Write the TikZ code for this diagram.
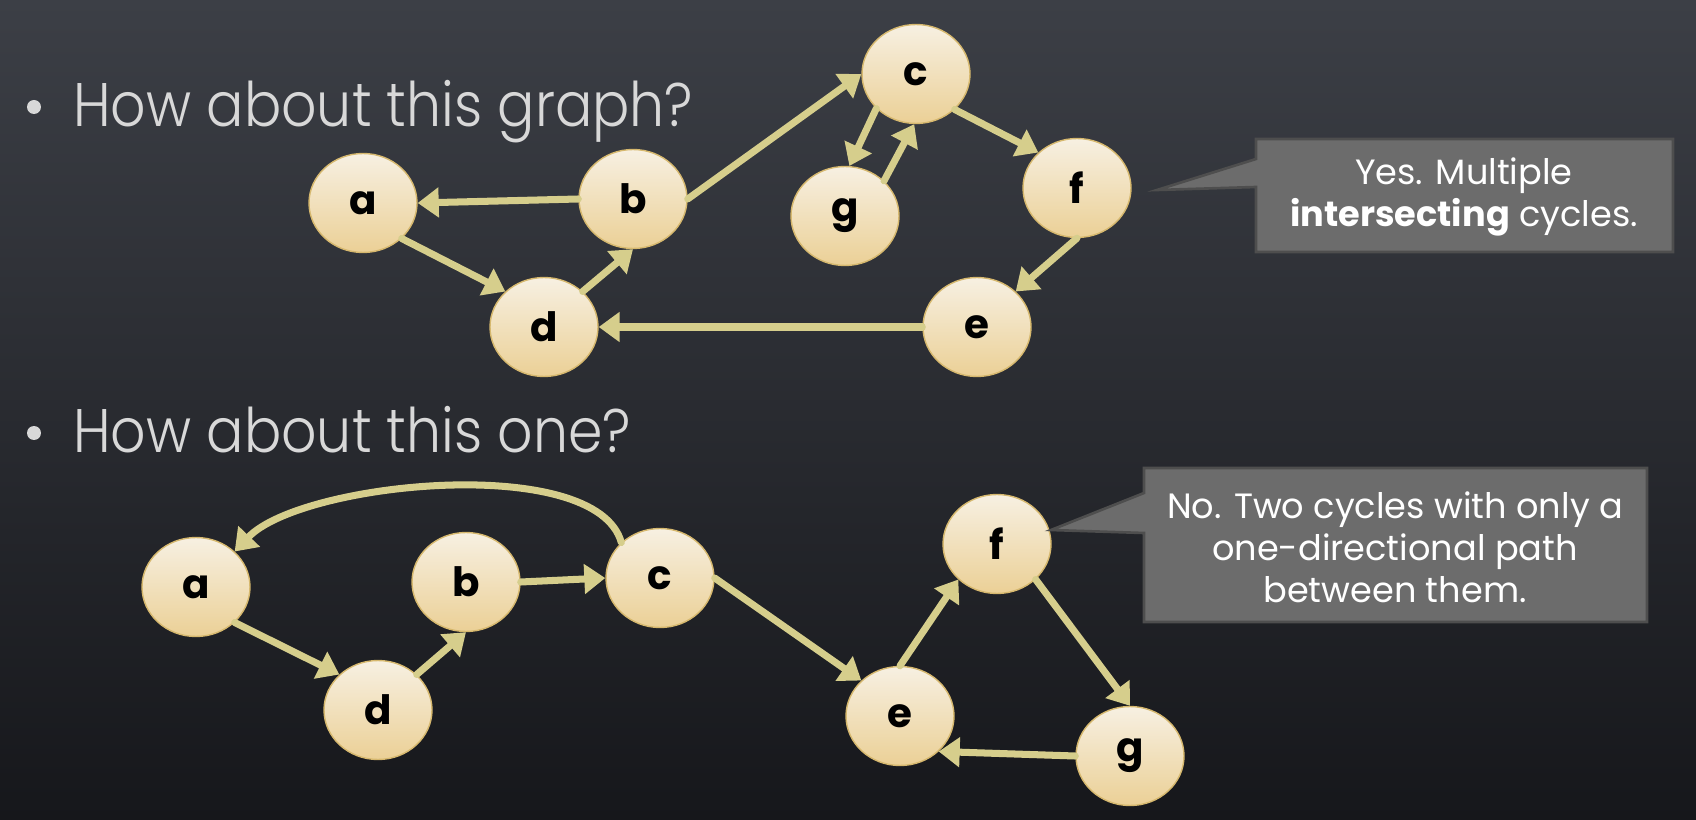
\documentclass[tikz,border=0pt]{standalone}
\usepackage{fontspec}
\setmainfont{Poppins}
\newfontfamily\lightfont{Poppins Light}[FakeStretch=0.9]
\usetikzlibrary{arrows.meta,shapes.geometric}
\definecolor{bgtop}{RGB}{60,63,70}
\definecolor{bgbot}{RGB}{22,23,27}
\definecolor{vtop}{RGB}{247,240,226}
\definecolor{vbot}{RGB}{235,208,150}
\definecolor{vline}{RGB}{214,184,110}
\definecolor{edgecol}{RGB}{214,206,140}
\definecolor{headcol}{RGB}{216,216,216}
\definecolor{boxfill}{RGB}{108,108,108}
\definecolor{boxline}{RGB}{78,78,78}
\begin{document}
\begin{tikzpicture}[x=0.02cm,y=-0.02cm]
            \tikzstyle{vertex}=[ellipse, minimum width=2.16cm, minimum height=1.98cm, inner sep=0pt, draw=vline, line width=0.8pt, top color=vtop, bottom color=vbot, text=black, font=\fontsize{23}{23}\selectfont\bfseries]
            \tikzstyle{edge}=[draw=edgecol, line width=4pt, line cap=round, -{Triangle[length=0.42cm,width=0.58cm]}]
            \tikzstyle{heading}=[anchor=base west, inner sep=0pt, text=headcol, font=\lightfont\fontsize{35}{35}\selectfont]
            \tikzstyle{callout}=[fill=boxfill, draw=boxline, line width=1.5pt]
            \tikzstyle{calltext}=[align=center, text=white, font=\fontsize{20}{24}\selectfont]
            \shade [top color=bgtop, bottom color=bgbot] (0,0) rectangle (1696,820);
            \useasboundingbox (0,0) rectangle (1696,820);
            % first graph
            \fill [headcol] (34,107) circle (0.14cm);
            \node [heading] (head1) at (73,127) {How about this graph?};
            \node [vertex] (a1) at (363,203) {a};
            \node [vertex] (b1) at (633,199) {b};
            \node [vertex] (c1) at (916,74) {c};
            \node [vertex] (d1) at (544,327) {d};
            \node [vertex] (e1) at (977,327) {e};
            \node [vertex] (f1) at (1077,188) {f};
            \node [vertex] (g1) at (845,216) {g};
            \draw [edge] (b1.west) -- (a1.east);
            \draw [edge] (a1.south east) -- (d1.north west);
            \draw [edge] (d1.north east) -- (b1.south);
            \draw [edge] (b1.east) -- (c1.west);
            \draw [edge] (c1.221) -- (g1.85);
            \draw [edge] (g1.42) -- (c1.268);
            \draw [edge] (c1.south east) -- (f1.north west);
            \draw [edge] (f1.south) -- (e1.north east);
            \draw [edge] (e1.west) -- (d1.east);
            \draw [callout] (1256,139) -- (1673,139) -- (1673,252) -- (1256,252) -- (1256,187) -- (1157,190) -- (1256,159) -- cycle;
            \node [calltext] (yes) at (1464,197) {Yes. Multiple\\ \textbf{intersecting} cycles.};
            % second graph
            \fill [headcol] (34,433) circle (0.14cm);
            \node [heading] (head2) at (73,453) {How about this one?};
            \node [vertex] (a2) at (196,587) {a};
            \node [vertex] (b2) at (466,582) {b};
            \node [vertex] (c2) at (660,578) {c};
            \node [vertex] (d2) at (378,710) {d};
            \node [vertex] (e2) at (900,716) {e};
            \node [vertex] (f2) at (997,544) {f};
            \node [vertex] (g2) at (1130,756) {g};
            \draw [edge] (c2.north west) .. controls +(-25,-90) and +(67,-70) .. (a2.north east);
            \draw [edge] (a2.south east) -- (d2.north west);
            \draw [edge] (d2.north east) -- (b2.south);
            \draw [edge] (b2.east) -- (c2.west);
            \draw [edge] (c2.east) -- (e2.north west);
            \draw [edge] (e2.north) -- (f2.south west);
            \draw [edge] (f2.south east) -- (g2.north);
            \draw [edge] (g2.west) -- (e2.south east);
            \draw [callout] (1144,468) -- (1647,468) -- (1647,622) -- (1144,622) -- (1144,533) -- (1051,530) -- (1144,493) -- cycle;
            \node [calltext] (no) at (1395,547) {No. Two cycles with only a\\ one-directional path\\ between them.};
\end{tikzpicture}
\end{document}
